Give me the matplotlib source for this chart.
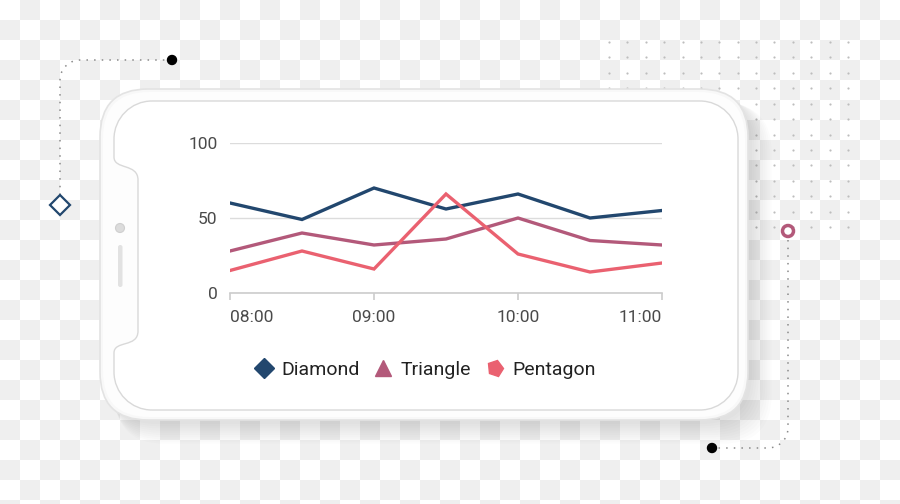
import numpy as np
import matplotlib
matplotlib.use("Agg")
import matplotlib.pyplot as plt
from matplotlib.path import Path
from matplotlib.patches import PathPatch, FancyBboxPatch, Circle
from matplotlib.lines import Line2D
from matplotlib.markers import MarkerStyle

plt.rcParams['font.family'] = ['Roboto', 'DejaVu Sans']

# data
times = ['08:00', '08:30', '09:00', '09:30', '10:00', '10:30', '11:00']
diamond = [60, 49, 70, 56, 66, 50, 55]
triangle = [28, 40, 32, 36, 50, 35, 32]
pentagon = [15, 28, 16, 66, 26, 14, 20]
tick_labels = ['08:00', '09:00', '10:00', '11:00']
y_ticks = [0, 50, 100]

c_diamond = '#22476e'
c_triangle = '#b3597a'
c_pentagon = '#ea6170'

fig = plt.figure(figsize=(9, 5.04), dpi=100)

# background layer in pixel coords
bg = fig.add_axes([0, 0, 1, 1])
bg.set_xlim(0, 900)
bg.set_ylim(504, 0)
bg.axis('off')

# transparency checkerboard
rows, cols = 26, 45
chk = (np.add.outer(np.arange(rows), np.arange(cols)) % 2).astype(float)
bg.imshow(chk, cmap=matplotlib.colors.ListedColormap(['#ffffff', '#efefef']),
          extent=(0, 900, 520, 0), interpolation='nearest', zorder=0, aspect='auto')

# dot grid top right
gx = np.linspace(609, 848, 14)
gy = np.linspace(42, 227, 13)
GX, GY = np.meshgrid(gx, gy)
bg.scatter(GX.ravel(), GY.ravel(), s=2.5, color='#bdbdbd', lw=0, zorder=1)

# dotted connectors
dot_style = dict(color='#8a8a8a', lw=1.1, ls=(0, (1, 4)), zorder=1)
t = np.linspace(0, np.pi / 2, 12)
r = 20
xs = np.concatenate([[172], 80 - r * np.sin(t), [60]])
ys = np.concatenate([[60], 80 - r * np.cos(t), [198]])
bg.plot(xs, ys, **dot_style)
xs2 = np.concatenate([[788], 788 - r + r * np.cos(t), [712]])
ys2 = np.concatenate([[240], 428 + r * np.sin(t), [448]])
bg.plot(xs2, ys2, **dot_style)
bg.add_patch(Circle((172, 60), 4.5, color='black', zorder=3))
bg.add_patch(Circle((712, 448), 4.5, color='black', zorder=3))
bg.plot([60], [205], marker='D', ms=10, mfc='white', mec=c_diamond, mew=1.6, zorder=3)
bg.add_patch(Circle((788, 231), 5.5, fc='white', ec=c_triangle, lw=2.5, zorder=3))

# phone shadow
for i in range(10):
    bg.add_patch(FancyBboxPatch((106 + i * 1.0, 94 + i * 1.0), 646 + i * 1.2, 330 + i * 1.2,
                                boxstyle='round,pad=0,rounding_size=50',
                                fc='black', ec='none', alpha=0.011, zorder=2))

# phone frame
bg.add_patch(FancyBboxPatch((100, 89), 648, 331, boxstyle='round,pad=0,rounding_size=48',
                            fc='#f8f8f8', ec='#e3e3e3', lw=1.2, zorder=3))
bg.add_patch(FancyBboxPatch((103, 92), 642, 325, boxstyle='round,pad=0,rounding_size=46',
                            fc='#fdfdfd', ec='none', zorder=3))

# screen with notch
k = 0.552
x0, x1, y0, y1, rr = 114, 738, 101, 410, 38
verts = [
    (x0 + rr, y0), (x1 - rr, y0),
    (x1 - rr + k * rr, y0), (x1, y0 + rr - k * rr), (x1, y0 + rr),
    (x1, y1 - rr),
    (x1, y1 - rr + k * rr), (x1 - rr + k * rr, y1), (x1 - rr, y1),
    (x0 + rr, y1),
    (x0 + rr - k * rr, y1), (x0, y1 - rr + k * rr), (x0, y1 - rr),
    (x0, 353),
    (x0, 340), (138, 348), (138, 331),
    (138, 180),
    (138, 163), (x0, 170), (x0, 157),
    (x0, y0 + rr),
    (x0, y0 + rr - k * rr), (x0 + rr - k * rr, y0), (x0 + rr, y0),
]
codes = [Path.MOVETO, Path.LINETO,
         Path.CURVE4, Path.CURVE4, Path.CURVE4,
         Path.LINETO,
         Path.CURVE4, Path.CURVE4, Path.CURVE4,
         Path.LINETO,
         Path.CURVE4, Path.CURVE4, Path.CURVE4,
         Path.LINETO,
         Path.CURVE4, Path.CURVE4, Path.CURVE4,
         Path.LINETO,
         Path.CURVE4, Path.CURVE4, Path.CURVE4,
         Path.LINETO,
         Path.CURVE4, Path.CURVE4, Path.CURVE4]
bg.add_patch(PathPatch(Path(verts, codes), fc='white', ec='#d9d9d9', lw=1, zorder=4))

# camera + speaker
bg.add_patch(Circle((120, 228), 4.5, fc='#dcdcdc', ec='#cfcfcf', lw=0.8, zorder=5))
bg.add_patch(FancyBboxPatch((118, 245), 4.5, 42, boxstyle='round,pad=0,rounding_size=2.2',
                            fc='#e2e2e2', ec='none', zorder=5))

# chart
ax = fig.add_axes([230 / 900, (504 - 293) / 504, 432 / 900, 150 / 504])
ax.set_facecolor('none')
x = np.arange(len(times))
ax.plot(x, diamond, color=c_diamond, lw=2.4, solid_joinstyle='miter', zorder=3)
ax.plot(x, triangle, color=c_triangle, lw=2.4, solid_joinstyle='miter', zorder=3)
ax.plot(x, pentagon, color=c_pentagon, lw=2.4, solid_joinstyle='miter', zorder=3)
ax.set_xlim(0, len(times) - 1)
ax.set_ylim(0, 100)
ax.set_yticks(y_ticks)
ax.set_yticklabels([str(v) for v in y_ticks])
ax.set_xticks([0, 2, 4, 6])
ax.set_xticklabels(tick_labels)
xl = ax.get_xticklabels()
xl[0].set_horizontalalignment('left')
xl[-1].set_horizontalalignment('right')
ax.grid(axis='y', color='#dcdcdc', lw=1)
ax.set_axisbelow(True)
for s in ['top', 'right', 'left']:
    ax.spines[s].set_visible(False)
ax.spines['bottom'].set_color('#cccccc')
ax.spines['bottom'].set_linewidth(1.2)
ax.tick_params(axis='y', length=0, pad=9, labelsize=12.5, labelcolor='#4a4a4a')
ax.tick_params(axis='x', length=5, color='#cccccc', width=1.2, pad=7,
               labelsize=12.5, labelcolor='#4a4a4a')

handles = [
    Line2D([], [], ls='none', marker='D', ms=10, color=c_diamond),
    Line2D([], [], ls='none', marker='^', ms=12, color=c_triangle),
    Line2D([], [], ls='none', marker=MarkerStyle('p').rotated(deg=-15), ms=12, color=c_pentagon),
]
fig.legend(handles, ['Diamond', 'Triangle', 'Pentagon'], loc='center',
           bbox_to_anchor=(424 / 900, (504 - 370) / 504), ncol=3, frameon=False,
           fontsize=14, handletextpad=0.3, columnspacing=0.6, handlelength=1.2,
           labelcolor='#222222')

fig.savefig('out.png', dpi=100)
